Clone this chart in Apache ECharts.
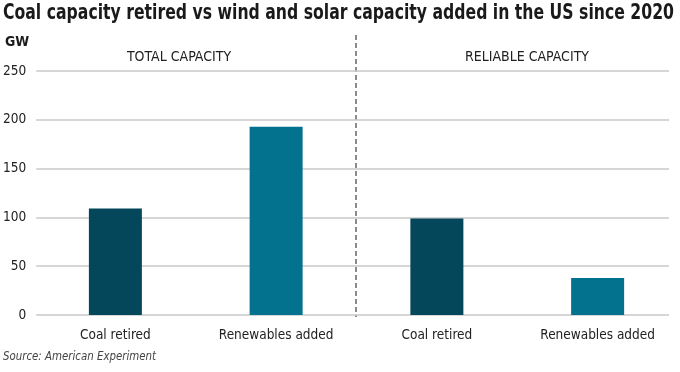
<!DOCTYPE html>
<html>
<head>
<meta charset="utf-8">
<script src="https://cdn.jsdelivr.net/npm/echarts@6/dist/echarts.min.js"></script>
<style>
html,body{margin:0;padding:0;background:#fff;}
#chart{width:680px;height:372px;}
</style>
</head>
<body>
<div id="chart"></div>
<script>
const titleText = 'Coal capacity retired vs wind and solar capacity added in the US since 2020';
const unitLabel = 'GW';
const panelLabels = ['TOTAL CAPACITY', 'RELIABLE CAPACITY'];
const sourceText = 'Source: American Experiment';
const categories = ['Coal retired', 'Renewables added', 'Coal retired', 'Renewables added'];
const totalCapacity = [109, 193];
const reliableCapacity = [99, 38];
const yTicks = [0, 50, 100, 150, 200, 250];

const FONT = "'DejaVu Sans Condensed', 'Liberation Sans', sans-serif";
const COAL = '#04465A';
const RENEW = '#02728F';

function fitScale(font, text, target) {
  const c = document.createElement('canvas').getContext('2d');
  c.font = font;
  const w = c.measureText(text).width;
  return Math.min(1, target / w);
}

const titleFont = "bold 22px " + FONT;
const sourceFont = "italic 13px " + FONT;
const titleScale = fitScale(titleFont, titleText, 671);
const sourceScale = fitScale(sourceFont, sourceText, 153);

const values = totalCapacity.concat(reliableCapacity);
const chart = echarts.init(document.getElementById('chart'), null, {renderer: 'canvas'});

chart.setOption({
  backgroundColor: '#fff',
  animation: false,
  textStyle: {fontFamily: FONT},
  grid: [
    {left: 34, right: 11, top: 71, bottom: 57},
    {left: 35, right: 2, top: 71, bottom: 57}
  ],
  xAxis: [
    {gridIndex: 0, type: 'value', show: false, min: 0, max: 1},
    {
      gridIndex: 1, type: 'category', data: categories,
      axisLine: {show: false}, axisTick: {show: false},
      axisLabel: {interval: 0, fontFamily: FONT, fontSize: 13.5, color: '#222', margin: 13}
    }
  ],
  yAxis: [
    {
      gridIndex: 0, type: 'value', min: yTicks[0], max: yTicks[yTicks.length - 1], interval: 50,
      axisLine: {show: false}, axisTick: {show: false},
      axisLabel: {fontFamily: FONT, fontSize: 13.5, color: '#222', margin: 10},
      splitLine: {lineStyle: {color: '#c8c8c8', width: 1.5}}
    },
    {gridIndex: 1, type: 'value', min: 0, max: 250, show: false, splitLine: {show: false}}
  ],
  series: [{
    type: 'bar',
    xAxisIndex: 1, yAxisIndex: 1,
    barWidth: 53,
    data: values.map((v, i) => ({
      value: v,
      itemStyle: {color: categories[i].startsWith('Coal') ? COAL : RENEW}
    }))
  }],
  graphic: [
    {type: 'text', x: 3, y: 2, scaleX: titleScale, style: {text: titleText, font: titleFont, fill: '#1a1a1a'}},
    {type: 'text', x: 5, y: 35, style: {text: unitLabel, font: "bold 14px " + FONT, fill: '#1a1a1a'}},
    {type: 'text', x: 179, y: 50, style: {text: panelLabels[0], font: "14px " + FONT, fill: '#222', align: 'center'}},
    {type: 'text', x: 527, y: 50, style: {text: panelLabels[1], font: "14px " + FONT, fill: '#222', align: 'center'}},
    {type: 'text', x: 3, y: 350, scaleX: sourceScale, style: {text: sourceText, font: sourceFont, fill: '#444'}},
    {type: 'line', shape: {x1: 356, y1: 35, x2: 356, y2: 317}, style: {stroke: '#666', lineWidth: 1.5, lineDash: [5, 3]}}
  ]
});
</script>
</body>
</html>
